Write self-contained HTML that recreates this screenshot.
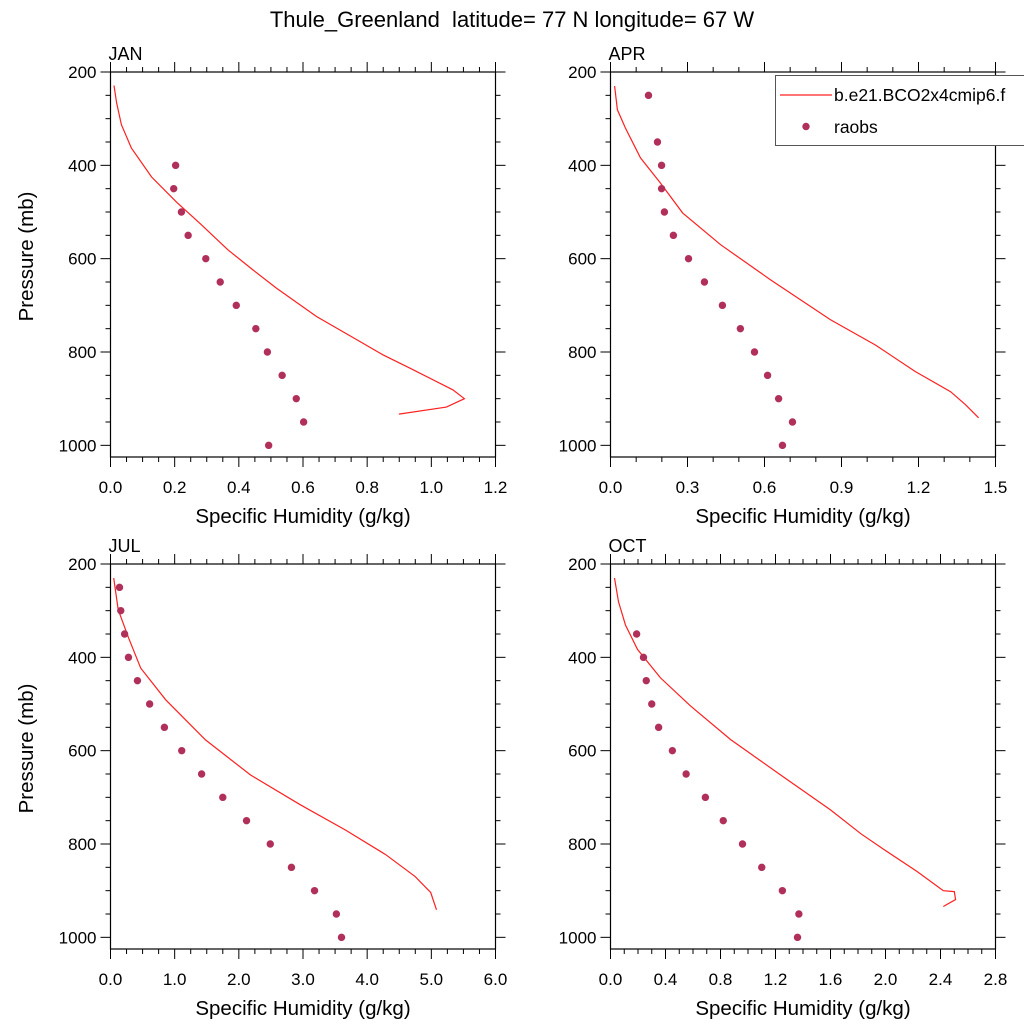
<!DOCTYPE html>
<html><head><meta charset="utf-8"><style>
body{margin:0;background:#fff}
svg{display:block;font-family:"Liberation Sans",sans-serif}
</style></head><body>
<svg id="chart" width="1024" height="1024" viewBox="0 0 1024 1024">
<rect width="1024" height="1024" fill="#fff"/>
<text x="512" y="27" font-size="22" text-anchor="middle" xml:space="preserve">Thule_Greenland  latitude= 77 N longitude= 67 W</text>
<g id="panels"></g>
<g>
<rect x="775.5" y="75.5" width="260" height="70" fill="#fff" stroke="#555" stroke-width="1"/>
<line x1="780" y1="95" x2="832" y2="95" stroke="#ff2020" stroke-width="1.3"/>
<text x="834" y="101" font-size="17.5">b.e21.BCO2x4cmip6.f</text>
<circle cx="806" cy="126.5" r="3.7" fill="#b0305a"/>
<text x="834" y="133" font-size="17.5">raobs</text>
</g>
</svg>
<script>
const janModelX=[0.011,0.019,0.034,0.065,0.128,0.206,0.278,0.366,0.444,0.517,0.642,0.761,0.849,0.932,1.067,1.103,1.047,0.899];
const janModelP=[229,266,313,363,425,479,524,581,624,663,724,771,806,834,881,900,918,933];
const aprModelX=[0.016,0.027,0.058,0.117,0.195,0.281,0.429,0.623,0.857,1.032,1.188,1.325,1.383,1.434];
const aprModelP=[230,281,320,384,438,502,570,645,731,785,842,885,913,941];
const julModelX=[0.05,0.12,0.28,0.47,0.86,1.48,2.18,2.96,3.66,4.29,4.75,4.99,5.08];
const julModelP=[230,298,358,423,491,577,652,716,770,823,870,904,941];
const octModelX=[0.029,0.058,0.109,0.196,0.364,0.582,0.873,1.236,1.60,1.82,1.99,2.23,2.42,2.50,2.51,2.42];
const octModelP=[230,281,331,383,444,504,576,652,727,778,812,859,900,902,919,934];
const janObsP=[400,450,500,550,600,650,700,750,800,850,900,950,1000];
const janObsX=[0.203,0.197,0.221,0.242,0.297,0.342,0.392,0.453,0.489,0.535,0.579,0.602,0.493];
const aprObsP=[250,350,400,450,500,550,600,650,700,750,800,850,900,950,1000];
const aprObsX=[0.148,0.183,0.199,0.199,0.210,0.245,0.304,0.366,0.436,0.506,0.561,0.612,0.655,0.709,0.670];
const julObsP=[250,300,350,400,450,500,550,600,650,700,750,800,850,900,950,1000];
const julObsX=[0.14,0.16,0.22,0.28,0.42,0.61,0.84,1.11,1.42,1.75,2.12,2.49,2.82,3.18,3.52,3.60];
const octObsP=[350,400,450,500,550,600,650,700,750,800,850,900,950,1000];
const octObsX=[0.19,0.24,0.26,0.30,0.35,0.45,0.55,0.69,0.82,0.96,1.10,1.25,1.37,1.36];
const janTicks=["0.0","0.2","0.4","0.6","0.8","1.0","1.2"];
const aprTicks=["0.0","0.3","0.6","0.9","1.2","1.5"];
const julTicks=["0.0","1.0","2.0","3.0","4.0","5.0","6.0"];
const octTicks=["0.0","0.4","0.8","1.2","1.6","2.0","2.4","2.8"];
const pTicks=[200,400,600,800,1000];

const NS="http://www.w3.org/2000/svg";
const root=document.getElementById('panels');
function mk(tag,attrs,parent){const e=document.createElementNS(NS,tag);for(const k in attrs)e.setAttribute(k,attrs[k]);parent.appendChild(e);return e;}
const panels=[
 {id:'jan',label:'JAN',x0:110.5,y0:72,xmax:1.2,ticks:janTicks,minorPer:4,mx:janModelX,mp:janModelP,ox:janObsX,op:janObsP,ylab:true},
 {id:'apr',label:'APR',x0:610.5,y0:72,xmax:1.5,ticks:aprTicks,minorPer:3,mx:aprModelX,mp:aprModelP,ox:aprObsX,op:aprObsP,ylab:false},
 {id:'jul',label:'JUL',x0:110.5,y0:564,xmax:6,ticks:julTicks,minorPer:4,mx:julModelX,mp:julModelP,ox:julObsX,op:julObsP,ylab:true},
 {id:'oct',label:'OCT',x0:610.5,y0:564,xmax:2.8,ticks:octTicks,minorPer:4,mx:octModelX,mp:octModelP,ox:octObsX,op:octObsP,ylab:false}
];
const W=385,H=385,PMIN=200,PMAX=1025;
panels.forEach(pn=>{
 const g=mk('g',{},root);
 
 
 const sx=v=>pn.x0+v/pn.xmax*W;
 const sy=p=>pn.y0+(p-PMIN)/(PMAX-PMIN)*H;
 const bx=mk('rect',{x:pn.x0,y:pn.y0,width:W,height:H,fill:'none',stroke:'#000','stroke-width':1.2},g);
 
 
 const nT=pn.ticks.length-1;
 for(let i=0;i<=nT*pn.minorPer;i++){
  const v=i/pn.minorPer*pn.xmax/nT, x=sx(v), maj=i%pn.minorPer===0, L=maj?10:5;
  mk('line',{x1:x,y1:pn.y0,x2:x,y2:pn.y0-L,stroke:'#000','stroke-width':1},g);
  mk('line',{x1:x,y1:pn.y0+H,x2:x,y2:pn.y0+H+L,stroke:'#000','stroke-width':1},g);
  if(maj){const t=mk('text',{x:x,y:pn.y0+H+36,'font-size':17,'text-anchor':'middle'},g);t.textContent=pn.ticks[i/pn.minorPer];
   
   }
 }
 for(let p=200;p<=1000;p+=50){
  const y=sy(p),maj=p%200===0,L=maj?10:5;
  mk('line',{x1:pn.x0,y1:y,x2:pn.x0-L,y2:y,stroke:'#000','stroke-width':1},g);
  mk('line',{x1:pn.x0+W,y1:y,x2:pn.x0+W+L,y2:y,stroke:'#000','stroke-width':1},g);
 }
 pTicks.forEach(p=>{const t=mk('text',{x:pn.x0-14,y:sy(p)+6,'font-size':17,'text-anchor':'end'},g);t.textContent=p;
  
  });
 const lb=mk('text',{x:pn.x0-2,y:pn.y0-12,'font-size':18},g);lb.textContent=pn.label;
 
 
 const xt=mk('text',{x:pn.x0+W/2,y:pn.y0+H+66,'font-size':20.5,'text-anchor':'middle'},g);xt.textContent='Specific Humidity (g/kg)';
 
 
 if(pn.ylab){const yt=mk('text',{x:0,y:0,'font-size':20.5,'text-anchor':'middle',transform:`translate(33,${pn.y0+H/2-8}) rotate(-90)`},g);yt.textContent='Pressure (mb)';
  
  }
 const pts=pn.mx.map((v,i)=>sx(v).toFixed(1)+','+sy(pn.mp[i]).toFixed(1)).join(' ');
 const ln=mk('polyline',{points:pts,fill:'none',stroke:'#ff2020','stroke-width':1.2},g);
 
 
 pn.ox.forEach((v,i)=>{const c=mk('circle',{cx:sx(v),cy:sy(pn.op[i]),r:3.7,fill:'#b0305a'},g);
  
  });
});
</script>
</body></html>
